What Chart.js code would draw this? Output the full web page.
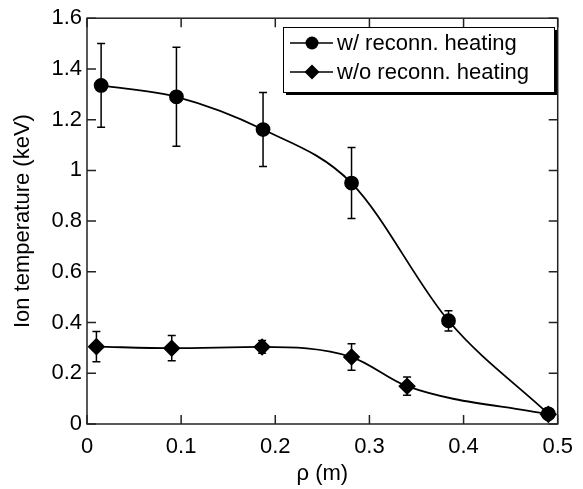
<!DOCTYPE html>
<html><head><meta charset="utf-8">
<script src="https://cdn.jsdelivr.net/npm/chart.js@4"></script>
<style>html,body{margin:0;padding:0;background:#fff}</style>
</head><body>
<canvas id="c" width="583" height="489" style="width:583px;height:489px;display:block"></canvas>
<script>
// ---- data ----
const seriesNames = ['w/ reconn. heating', 'w/o reconn. heating'];
const rhoWith = [0.015, 0.095, 0.187, 0.281, 0.384, 0.49];
const tempWith = [1.335, 1.29, 1.161, 0.95, 0.407, 0.04];
const errWith = [0.165, 0.195, 0.146, 0.14, 0.04, 0];
const rhoWithout = [0.01, 0.09, 0.186, 0.281, 0.34, 0.49];
const tempWithout = [0.305, 0.299, 0.304, 0.264, 0.149, 0.038];
const errWithout = [0.06, 0.05, 0.025, 0.052, 0.036, 0];
const xTicks = [0, 0.1, 0.2, 0.3, 0.4, 0.5];
const yTicks = [0, 0.2, 0.4, 0.6, 0.8, 1, 1.2, 1.4, 1.6];
const xTickLabels = ['0', '0.1', '0.2', '0.3', '0.4', '0.5'];
const yTickLabels = ['0', '0.2', '0.4', '0.6', '0.8', '1', '1.2', '1.4', '1.6'];
const xTitle = 'ρ (m)';
const yTitle = 'Ion temperature (keV)';

const FONT = 'Liberation Sans, Arial, Helvetica, sans-serif';
const toPts = (xs, ys) => xs.map((x, i) => ({x: x, y: ys[i]}));

const errorBars = {
  id: 'errorBars',
  beforeDatasetsDraw(chart) {
    const ctx = chart.ctx, xs = chart.scales.x, ys = chart.scales.y;
    const sets = [[rhoWith, tempWith, errWith], [rhoWithout, tempWithout, errWithout]];
    ctx.save();
    ctx.strokeStyle = '#000';
    ctx.lineWidth = 1.5;
    sets.forEach(([r, t, e]) => {
      r.forEach((x, i) => {
        if (!e[i]) return;
        const px = xs.getPixelForValue(x);
        const y1 = ys.getPixelForValue(t[i] + e[i]);
        const y2 = ys.getPixelForValue(t[i] - e[i]);
        ctx.beginPath();
        ctx.moveTo(px, y1); ctx.lineTo(px, y2);
        ctx.moveTo(px - 4, y1); ctx.lineTo(px + 4, y1);
        ctx.moveTo(px - 4, y2); ctx.lineTo(px + 4, y2);
        ctx.stroke();
      });
    });
    ctx.restore();
  }
};

const frame = {
  id: 'frame',
  afterDraw(chart) {
    const ctx = chart.ctx, a = chart.chartArea, xs = chart.scales.x, ys = chart.scales.y;
    ctx.save();
    ctx.strokeStyle = '#222';
    ctx.lineWidth = 1.5;
    ctx.strokeRect(a.left, a.top, a.right - a.left, a.bottom - a.top);
    const L = 9;
    ctx.beginPath();
    xTicks.forEach(v => {
      const p = xs.getPixelForValue(v);
      ctx.moveTo(p, a.bottom); ctx.lineTo(p, a.bottom - L);
      ctx.moveTo(p, a.top); ctx.lineTo(p, a.top + L);
    });
    yTicks.forEach(v => {
      const p = ys.getPixelForValue(v);
      ctx.moveTo(a.left, p); ctx.lineTo(a.left + L, p);
      ctx.moveTo(a.right, p); ctx.lineTo(a.right - L, p);
    });
    ctx.stroke();

    // legend
    const bx = 283, by = 27, bw = 271, bh = 65;
    ctx.fillStyle = '#000';
    ctx.fillRect(bx + 3, by + 3, bw, bh);
    ctx.fillStyle = '#fff';
    ctx.fillRect(bx, by, bw, bh);
    ctx.strokeStyle = '#000';
    ctx.lineWidth = 1;
    ctx.strokeRect(bx + 0.5, by + 0.5, bw, bh);
    const rows = [by + 16, by + 45];
    ctx.font = '22px ' + FONT;
    ctx.textBaseline = 'middle';
    rows.forEach((ry, i) => {
      ctx.strokeStyle = '#000';
      ctx.lineWidth = 1.5;
      ctx.beginPath(); ctx.moveTo(bx + 7, ry); ctx.lineTo(bx + 50, ry); ctx.stroke();
      ctx.fillStyle = '#000';
      const mx = bx + 29;
      ctx.beginPath();
      if (i === 0) { ctx.arc(mx, ry, 6.5, 0, Math.PI * 2); }
      else { ctx.moveTo(mx, ry - 7.5); ctx.lineTo(mx + 7.5, ry); ctx.lineTo(mx, ry + 7.5); ctx.lineTo(mx - 7.5, ry); ctx.closePath(); }
      ctx.fill();
      ctx.fillText(seriesNames[i], bx + 54, ry + 1);
    });
    ctx.restore();
  }
};

new Chart(document.getElementById('c'), {
  type: 'scatter',
  data: {
    datasets: [
      {label: seriesNames[0], data: toPts(rhoWith, tempWith), showLine: true,
       borderColor: '#000', backgroundColor: '#000', borderWidth: 1.8,
       pointStyle: 'circle', pointRadius: 6.5, cubicInterpolationMode: 'monotone'},
      {label: seriesNames[1], data: toPts(rhoWithout, tempWithout), showLine: true,
       borderColor: '#000', backgroundColor: '#000', borderWidth: 1.8,
       pointStyle: 'rectRot', pointRadius: 7.5, cubicInterpolationMode: 'monotone'}
    ]
  },
  options: {
    responsive: false,
    animation: false,
    devicePixelRatio: 1,
    layout: {padding: {top: 15, right: 17, left: 0, bottom: 0}},
    plugins: {legend: {display: false}, tooltip: {enabled: false}},
    scales: {
      x: {
        type: 'linear', min: 0, max: 0.5,
        afterBuildTicks: s => { s.ticks = xTicks.map(v => ({value: v})); },
        afterFit: s => { s.height = 65; },
        grid: {display: false, drawTicks: false},
        border: {display: false},
        ticks: {padding: 10, color: '#000', font: {family: FONT, size: 22}, maxRotation: 0,
                callback: (v, i) => xTickLabels[i]},
        title: {display: true, text: xTitle, color: '#000', font: {family: FONT, size: 22}, padding: {top: 0, bottom: 2}}
      },
      y: {
        type: 'linear', min: 0, max: 1.6,
        afterBuildTicks: s => { s.ticks = yTicks.map(v => ({value: v})); },
        afterFit: s => { s.width = 87; },
        grid: {display: false, drawTicks: false},
        border: {display: false},
        ticks: {padding: 5, color: '#000', font: {family: FONT, size: 22},
                callback: (v, i) => yTickLabels[i]},
        title: {display: true, text: yTitle, color: '#000', font: {family: FONT, size: 22}, padding: {top: 10, bottom: 0}}
      }
    }
  },
  plugins: [errorBars, frame]
});
</script>
</body></html>
